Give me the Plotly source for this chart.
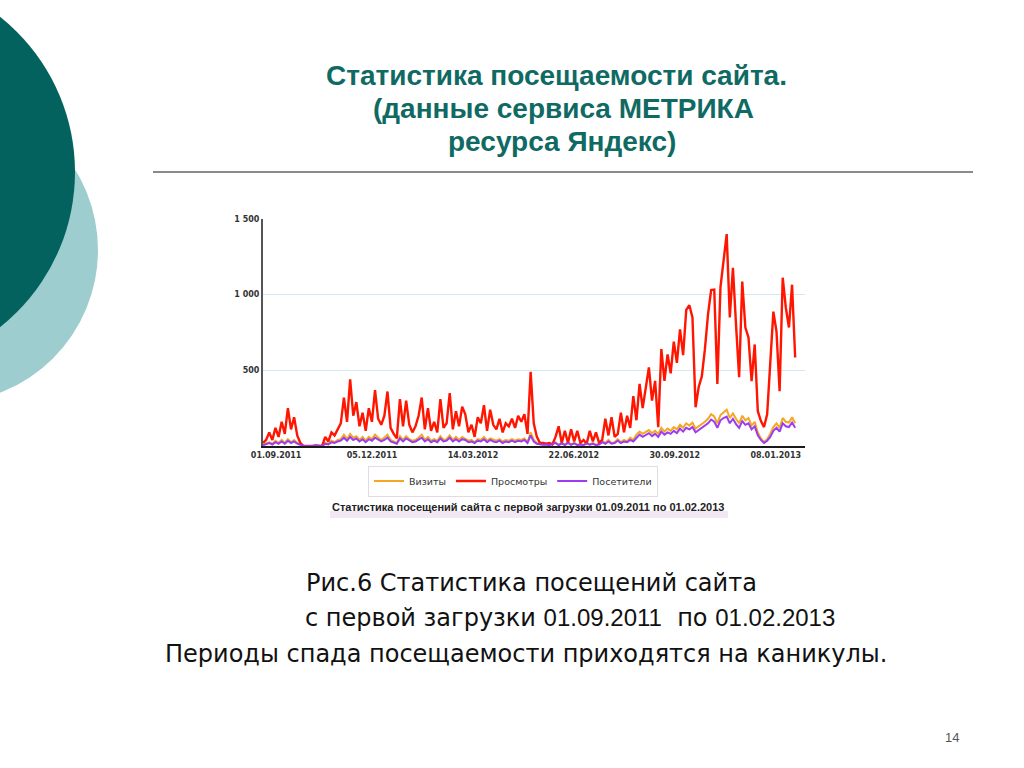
import pandas as pd
import plotly.graph_objects as go

# данные Яндекс.Метрики (шаг ~3 дня)
prosmotry = [20, 40, 90, 40, 120, 60, 160, 80, 250, 110, 190, 70, 20, 0, 0, 0, 0, 0, 0, 0,
             60, 30, 90, 70, 110, 150, 320, 160, 440, 200, 290, 130, 220, 100, 250, 160, 370, 180, 140, 200,
             360, 120, 80, 50, 310, 130, 300, 140, 90, 130, 200, 320, 110, 250, 100, 160, 90, 310, 120, 150,
             350, 110, 230, 130, 260, 210, 90, 140, 60, 190, 150, 270, 100, 240, 140, 110, 180, 90, 150, 130,
             180, 120, 200, 160, 210, 80, 490, 150, 60, 20, 20, 15, 20, 10, 60, 130, 20, 100, 20, 110,
             30, 100, 20, 40, 15, 100, 30, 90, 20, 40, 180, 70, 190, 60, 80, 220, 90, 200, 120, 330,
             170, 410, 250, 380, 520, 300, 430, 125, 640, 430, 605, 480, 690, 550, 770, 600, 900, 930, 850, 256,
             390, 460, 640, 870, 1030, 1033, 410, 1050, 1217, 1400, 850, 1178, 800, 454, 1086, 783, 717, 428, 671, 230,
             165, 125, 210, 560, 888, 757, 362, 1112, 914, 783, 1066, 585]

posetiteli = [5, 10, 20, 10, 25, 15, 30, 15, 35, 20, 30, 15, 5, 0, 0, 0, 0, 5, 0, 0,
              15, 10, 25, 20, 30, 35, 55, 35, 60, 40, 50, 30, 45, 25, 45, 35, 55, 40, 30, 40,
              55, 30, 20, 15, 50, 30, 50, 35, 25, 30, 40, 55, 30, 45, 25, 35, 25, 50, 30, 35,
              55, 30, 45, 30, 45, 40, 25, 30, 20, 35, 30, 45, 25, 40, 30, 25, 35, 20, 30, 25,
              35, 25, 35, 30, 40, 20, 70, 30, 15, 10, 8, 10, 5, 15, 20, 5, 18, 6, 20, 8,
              18, 6, 10, 5, 18, 8, 15, 6, 10, 25, 15, 30, 15, 20, 35, 20, 30, 25, 40, 30,
              55, 75, 60, 70, 85, 65, 80, 60, 95, 75, 90, 80, 100, 85, 115, 95, 120, 110, 125, 90,
              105, 115, 130, 150, 175, 160, 120, 170, 185, 195, 150, 180, 145, 120, 165, 140, 150, 110, 130, 70,
              40, 20, 35, 60, 100, 120, 95, 150, 130, 125, 155, 120]

vizity = [10, 15, 25, 15, 35, 20, 40, 20, 45, 25, 40, 20, 8, 0, 0, 0, 0, 8, 0, 0,
          20, 15, 35, 25, 40, 45, 75, 45, 80, 55, 65, 40, 60, 35, 60, 45, 75, 55, 40, 55,
          75, 40, 30, 20, 65, 40, 65, 45, 35, 40, 55, 75, 40, 60, 35, 45, 35, 65, 40, 45,
          70, 40, 60, 40, 60, 50, 35, 40, 25, 45, 40, 60, 35, 50, 40, 35, 45, 30, 40, 35,
          45, 35, 45, 40, 50, 25, 90, 40, 20, 12, 10, 12, 8, 20, 25, 8, 22, 8, 25, 10,
          22, 8, 12, 8, 22, 10, 20, 8, 12, 30, 20, 40, 20, 25, 45, 25, 40, 30, 55, 40,
          75, 95, 80, 90, 105, 85, 100, 80, 120, 95, 115, 100, 125, 110, 140, 120, 150, 135, 155, 115,
          130, 140, 160, 180, 210, 195, 150, 205, 225, 240, 185, 215, 180, 150, 200, 170, 185, 135, 160, 90,
          50, 25, 45, 80, 125, 150, 120, 185, 160, 155, 190, 150]

daty = pd.date_range('2011-08-19', periods=len(prosmotry), freq='74h')
tick_daty = ['2011-09-01', '2011-12-05', '2012-03-14', '2012-06-22', '2012-09-30', '2013-01-08']
tick_text = ['01.09.2011', '05.12.2011', '14.03.2012', '22.06.2012', '30.09.2012', '08.01.2013']
y_ticks = [500, 1000, 1500]
y_text = ['500', '1 000', '1 500']

W, H = 1024, 768
def px(x):
    return x / W
def py(y):
    return 1 - y / H

fig = go.Figure()
fig.add_trace(go.Scatter(x=daty, y=vizity, mode='lines', name='Визиты',
                         line=dict(color='#f5a623', width=2)))
fig.add_trace(go.Scatter(x=daty, y=prosmotry, mode='lines', name='Просмотры',
                         line=dict(color='#ff1500', width=2.4)))
fig.add_trace(go.Scatter(x=daty, y=posetiteli, mode='lines', name='Посетители',
                         line=dict(color='#9b3cf0', width=2)))

fig.update_xaxes(domain=[px(263), px(805)], range=['2011-08-19', '2013-02-06'], automargin=False,
                 tickvals=tick_daty, ticktext=tick_text, showgrid=False,
                 showline=True, linecolor='#1a1a1a', linewidth=2, ticks='',
                 tickfont=dict(family='DejaVu Sans', size=8, color='#333333', weight='bold'))
fig.update_yaxes(domain=[py(446), py(219)], range=[0, 1500], automargin=False,
                 tickvals=y_ticks, ticktext=y_text, showgrid=True, gridcolor='#d3e9f1', gridwidth=1,
                 zeroline=False, showline=True, linecolor='#555555', linewidth=2, ticks='',
                 tickfont=dict(family='DejaVu Sans', size=8, color='#333333', weight='bold'))

shapes = [
    # декоративные круги слева
    dict(type='circle', xref='paper', yref='paper', x0=px(-55 - 153), x1=px(-55 + 153),
         y0=py(250 + 153), y1=py(250 - 153), fillcolor='#9ecdd0', line=dict(width=0), layer='below'),
    dict(type='circle', xref='paper', yref='paper', x0=px(-123 - 198), x1=px(-123 + 198),
         y0=py(172 + 198), y1=py(172 - 198), fillcolor='#03625d', line=dict(width=0), layer='below'),
    # линия под заголовком
    dict(type='line', xref='paper', yref='paper', x0=px(153), x1=px(973), y0=py(172), y1=py(172),
         line=dict(color='#8a8a8a', width=2)),
    # подложка подписи графика
    dict(type='rect', xref='paper', yref='paper', x0=px(330), x1=px(728), y0=py(518), y1=py(511),
         fillcolor='#f1e8f3', line=dict(width=0), layer='below'),
]

title_font = dict(family='Liberation Sans', size=28, color='#0f6a63', weight='bold')
body_font = dict(family='DejaVu Sans', size=24, color='#111111')
cifry = "<span style='font-family:Liberation Sans'>{}</span>"
annotations = [
    dict(text='Статистика посещаемости сайта.', x=px(556), y=py(75), font=title_font),
    dict(text='(данные сервиса МЕТРИКА', x=px(563), y=py(108), font=title_font),
    dict(text='ресурса Яндекс)', x=px(562), y=py(141), font=title_font),
    dict(text='Статистика посещений сайта с первой загрузки 01.09.2011 по 01.02.2013',
         x=px(528), y=py(507), font=dict(family='Liberation Sans', size=11, color='#222222', weight='bold')),
    dict(text='Рис.6 Статистика посещений сайта', x=px(531), y=py(583), font=body_font),
    dict(text='с первой загрузки ' + cifry.format('01.09.2011') + '  по ' + cifry.format('01.02.2013'),
         x=px(570), y=py(618), font=body_font),
    dict(text='Периоды спада посещаемости приходятся на каникулы.', x=px(526), y=py(654), font=body_font),
    dict(text='14', x=px(952), y=py(737), font=dict(family='Liberation Sans', size=13, color='#555555')),
]
for a in annotations:
    a.update(xref='paper', yref='paper', showarrow=False, xanchor='center', yanchor='middle')

fig.update_layout(
    width=W, height=H,
    margin=dict(l=0, r=0, t=0, b=0, pad=0, autoexpand=False),
    paper_bgcolor='white', plot_bgcolor='white',
    showlegend=True,
    legend=dict(orientation='h', x=px(513), y=py(481), xanchor='center', yanchor='middle',
                bordercolor='#e6d9e6', borderwidth=1, bgcolor='white', itemwidth=30,
                font=dict(family='DejaVu Sans', size=9.5, color='#333333')),
    shapes=shapes,
    annotations=annotations,
)

# убираем отступ страницы, чтобы слайд начинался с (0, 0)
fig.write_html('out.html', config={'displayModeBar': False},
               post_script="document.body.style.margin='0';")
